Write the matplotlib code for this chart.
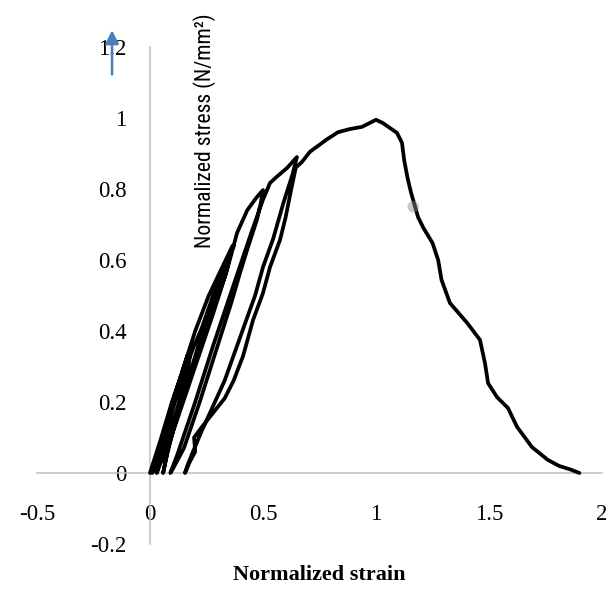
import matplotlib
matplotlib.use("Agg")
import matplotlib.pyplot as plt
from matplotlib import font_manager

# stress-strain path (loading/unloading cycles + softening)
strain = [
    0.0, 0.01, 0.05, 0.097, 0.14, 0.165, 0.18,
    0.17, 0.12, 0.07, 0.03,
    0.06, 0.11, 0.16, 0.19, 0.23, 0.29, 0.354, 0.37,
    0.34, 0.28, 0.2, 0.12, 0.06, 0.01,
    0.04, 0.1, 0.17, 0.2, 0.26, 0.32, 0.365,
    0.335, 0.27, 0.19, 0.11, 0.075, 0.058,
    0.08, 0.14, 0.2, 0.26, 0.32, 0.37, 0.385, 0.43, 0.47, 0.5,
    0.49, 0.473, 0.434, 0.398, 0.36, 0.3, 0.22, 0.15, 0.1, 0.09,
    0.12, 0.2, 0.28, 0.37, 0.45, 0.5, 0.531, 0.56, 0.606, 0.65,
    0.63, 0.59, 0.545, 0.5, 0.465, 0.42, 0.375, 0.33, 0.28, 0.23, 0.19, 0.165, 0.155,
    0.175, 0.2, 0.195, 0.23, 0.28, 0.33, 0.37, 0.412, 0.456, 0.5, 0.531, 0.575, 0.6, 0.625, 0.645,
    0.672, 0.708, 0.783, 0.832, 0.885, 0.938, 1.0,
    1.03, 1.093, 1.115, 1.125, 1.14, 1.155, 1.186, 1.21, 1.25, 1.275, 1.29,
    1.327, 1.403, 1.46, 1.482, 1.496, 1.535, 1.584, 1.624, 1.69, 1.76, 1.81, 1.86, 1.90,
]
stress = [
    0.0, 0.02, 0.1, 0.2, 0.28, 0.33, 0.345,
    0.3, 0.18, 0.07, 0.0,
    0.08, 0.2, 0.3, 0.35, 0.41, 0.52, 0.62, 0.64,
    0.57, 0.45, 0.3, 0.15, 0.04, 0.0,
    0.06, 0.2, 0.34, 0.4, 0.5, 0.58, 0.64,
    0.56, 0.44, 0.29, 0.14, 0.05, 0.0,
    0.07, 0.2, 0.33, 0.45, 0.56, 0.64, 0.676, 0.74, 0.775, 0.797,
    0.76, 0.713, 0.637, 0.563, 0.48, 0.36, 0.2, 0.07, 0.01, 0.0,
    0.05, 0.2, 0.36, 0.53, 0.68, 0.77, 0.817, 0.834, 0.859, 0.89,
    0.84, 0.76, 0.66, 0.58, 0.5, 0.42, 0.34, 0.26, 0.19, 0.12, 0.06, 0.02, 0.0,
    0.03, 0.06, 0.1, 0.13, 0.17, 0.21, 0.26, 0.33, 0.431, 0.507, 0.58, 0.656, 0.72, 0.8, 0.86,
    0.876, 0.905, 0.94, 0.96, 0.969, 0.975, 0.995,
    0.986, 0.958, 0.93, 0.88, 0.83, 0.79, 0.721, 0.69, 0.648, 0.6, 0.544,
    0.479, 0.423, 0.375, 0.31, 0.253, 0.214, 0.183, 0.13, 0.073, 0.037, 0.02, 0.01, 0.0,
]

x_ticks = [-0.5, 0, 0.5, 1, 1.5, 2]
x_tick_labels = ["-0.5", "0", "0.5", "1", "1.5", "2"]
y_ticks = [-0.2, 0, 0.2, 0.4, 0.6, 0.8, 1.0, 1.2]
y_tick_labels = ["-0.2", "0", "0.2", "0.4", "0.6", "0.8", "1", "1.2"]

smudge_x = [1.165]
smudge_y = [0.75]

plt.rcParams["font.family"] = ["Liberation Serif", "DejaVu Serif"]

# pick a narrow sans for the rotated y label if one is installed
fonts = font_manager.fontManager.ttflist
names = {f.name for f in fonts}
label_font = {"family": ["Liberation Sans", "DejaVu Sans"]}
for name in ["Liberation Sans Narrow", "Roboto Condensed", "Open Sans Condensed", "Arial Narrow"]:
    if name in names:
        label_font = {"family": [name, "DejaVu Sans"]}
        break
else:
    for f in fonts:
        if f.stretch == "condensed" and f.name in ("Liberation Sans", "Roboto", "Open Sans", "Noto Sans", "DejaVu Sans"):
            label_font = {"family": [f.name, "DejaVu Sans"], "fontstretch": "condensed"}
            break

fig = plt.figure(figsize=(6.15, 6.16), dpi=100)
ax = fig.add_axes([37 / 615, 1 - 544 / 616, 565 / 615, 497 / 616])

ax.plot(strain, stress, color="black", lw=2.7, solid_joinstyle="round",
        solid_capstyle="round", zorder=3)
ax.scatter(smudge_x, smudge_y, s=70, color="#888888", alpha=0.45,
           edgecolors="none", zorder=4)

ax.set_xlim(-0.5, 2)
ax.set_ylim(-0.2, 1.2)

for side in ["top", "right"]:
    ax.spines[side].set_visible(False)
ax.spines["left"].set_position(("data", 0))
ax.spines["bottom"].set_position(("data", 0))
for side in ["left", "bottom"]:
    ax.spines[side].set_color("#BFBFBF")
    ax.spines[side].set_linewidth(1.1)

ax.set_xticks(x_ticks)
ax.set_xticklabels(x_tick_labels)
ax.set_yticks(y_ticks)
ax.set_yticklabels(y_tick_labels)
ax.tick_params(axis="x", length=0, pad=22, labelsize=16.5)
ax.tick_params(axis="y", length=0, pad=17, labelsize=16.5)

ax.text(0.5, -0.062, "Normalized strain", transform=ax.transAxes,
        ha="center", va="center", fontsize=16, fontweight="bold")
ylab = ax.text(0.2956, 0.831, "Normalized stress (N/mm²)", transform=ax.transAxes,
               rotation=90, ha="center", va="center", fontsize=16, **label_font)

# fit the rotated label to the length it has in the reference (~237 px)
fig.canvas.draw()
h = ylab.get_window_extent(renderer=fig.canvas.get_renderer()).height
ylab.set_fontsize(16 * 237 / h)

ax.annotate("", xy=(-0.168, 1.255), xytext=(-0.168, 1.115),
            arrowprops=dict(arrowstyle="-|>", color="#4A7EBB", lw=1.8,
                            mutation_scale=20),
            annotation_clip=False)

fig.savefig("out.png", dpi=100)
